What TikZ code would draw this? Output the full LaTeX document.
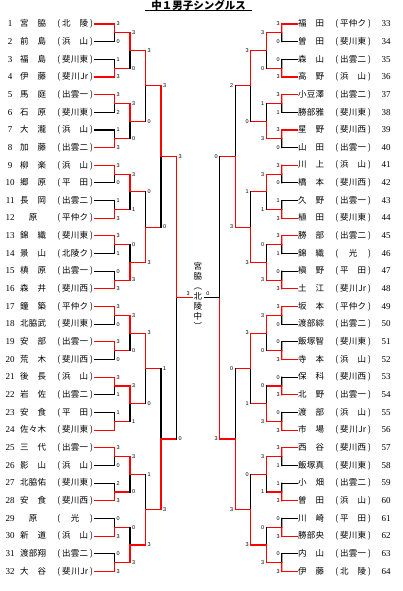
\documentclass[tikz,border=0pt]{standalone}
\usepackage{fontspec}
\setmainfont{Liberation Serif}
\newfontfamily\jpfont{Noto Sans CJK JP}
\newfontfamily\scfont{Liberation Sans}
\usetikzlibrary{positioning, calc}

% set scores, round by round, in the order of the lines (a 4 is a win with no figure printed)
\def\LscI{{3,0,1,3,3,2,1,3,3,0,1,3,3,1,0,3,3,0,3,0,3,1,1,4,3,0,2,3,0,3,0,3}}
\def\LscII{{3,0,3,0,3,1,0,3,3,0,3,1,3,0,0,3}}
\def\LscIII{{3,0,0,3,3,0,1,3}}
\def\LscIV{{3,0,1,3}}
\def\LscV{{3,0}}
\def\RscI{{3,0,0,3,3,1,3,0,3,0,1,3,3,1,0,3,3,0,0,3,0,3,0,3,3,1,1,3,0,3,0,3}}
\def\RscII{{3,0,1,3,3,1,0,3,3,0,0,3,3,1,0,3}}
\def\RscIII{{3,0,1,3,3,1,0,3}}
\def\RscIV{{2,3,0,3}}
\def\RscV{{0,3}}

\begin{document}
\begin{tikzpicture}[x=1pt, y=-1pt,
        entrant/.style={inner xsep=1pt, inner ysep=0pt, font=\jpfont\fontsize{8.5}{10}\selectfont},
        score/.style={inner sep=0pt, font=\scfont\fontsize{5.5}{6}\selectfont},
        bline/.style={line width=1.1pt, line cap=rect}%
    ]
    \useasboundingbox (0,0) rectangle (402,591);

    \node[anchor=base, inner sep=0pt, font=\jpfont\bfseries\fontsize{10.5}{12}\selectfont] (title) at (198.5,9.3) {\makebox[106pt]{中１男子シングルス}};
    \draw[line width=0.9pt] ([yshift=-1.4pt]title.base west) -- ([yshift=-1.4pt]title.base east);

    % left half
    \foreach \i/\nm/\aff in {1/宮\hfil 脇/北\hfil 陵, 2/前\hfil 島/浜\hfil 山, 3/福\hfil 島/斐\hfil 川\hfil 東, 4/伊\hfil 藤/斐\hfil 川\hfil Jr,
            5/馬\hfil 庭/出\hfil 雲\hfil 一, 6/石\hfil 原/斐\hfil 川\hfil 東, 7/大\hfil 瀧/浜\hfil 山, 8/加\hfil 藤/出\hfil 雲\hfil 二,
            9/柳\hfil 楽/浜\hfil 山, 10/郷\hfil 原/平\hfil 田, 11/長\hfil 岡/出\hfil 雲\hfil 二, 12/\hfil 原\hfil/平\hfil 仲\hfil ク,
            13/錦\hfil 織/斐\hfil 川\hfil 東, 14/景\hfil 山/北\hfil 陵\hfil ク, 15/槙\hfil 原/出\hfil 雲\hfil 一, 16/森\hfil 井/斐\hfil 川\hfil 西,
            17/鐘\hfil 築/平\hfil 仲\hfil ク, 18/北\hfil 脇\hfil 武/斐\hfil 川\hfil 東, 19/安\hfil 部/出\hfil 雲\hfil 一, 20/荒\hfil 木/斐\hfil 川\hfil 西,
            21/後\hfil 長/浜\hfil 山, 22/岩\hfil 佐/出\hfil 雲\hfil 二, 23/安\hfil 食/平\hfil 田, 24/佐\hfil 々\hfil 木/斐\hfil 川\hfil 東,
            25/三\hfil 代/出\hfil 雲\hfil 一, 26/影\hfil 山/浜\hfil 山, 27/北\hfil 脇\hfil 佑/斐\hfil 川\hfil 東, 28/安\hfil 食/斐\hfil 川\hfil 西,
            29/\hfil 原\hfil/\hfil 光\hfil, 30/新\hfil 道/浜\hfil 山, 31/渡\hfil 部\hfil 翔/出\hfil 雲\hfil 二, 32/大\hfil 谷/斐\hfil 川\hfil Jr} {
        \node[entrant, anchor=west] (p\i) at (0,{24+17.66*(\i-1)})
            {\makebox[18pt]{\rmfamily\fontsize{9}{10}\selectfont\i}\hspace{1pt}\makebox[26pt][s]{\nm}\makebox[16pt][r]{(\hspace{2pt}}\makebox[26pt][s]{\aff}\hspace{2pt})\hspace{3pt}};
        \coordinate (L0-\i) at (114.5,{24+17.66*(\i-1)});
        \pgfmathtruncatemacro\s{\LscI[\i-1]}
        \ifnum\s>2 \def\col{red}\else\def\col{black}\fi
        \draw[bline, draw=\col] (p\i.east) -- (L0-\i);
    }

    % right half
    \foreach \i/\nm/\aff in {33/福\hfil 田/平\hfil 仲\hfil ク, 34/曽\hfil 田/斐\hfil 川\hfil 東, 35/森\hfil 山/出\hfil 雲\hfil 二, 36/高\hfil 野/浜\hfil 山,
            37/小\hfil 豆\hfil 澤/出\hfil 雲\hfil 二, 38/勝\hfil 部\hfil 雅/斐\hfil 川\hfil 東, 39/星\hfil 野/斐\hfil 川\hfil 西, 40/山\hfil 田/出\hfil 雲\hfil 一,
            41/川\hfil 上/浜\hfil 山, 42/橋\hfil 本/斐\hfil 川\hfil 西, 43/久\hfil 野/出\hfil 雲\hfil 一, 44/植\hfil 田/斐\hfil 川\hfil 東,
            45/勝\hfil 部/出\hfil 雲\hfil 二, 46/錦\hfil 織/\hfil 光\hfil, 47/槇\hfil 野/平\hfil 田, 48/土\hfil 江/斐\hfil 川\hfil Jr,
            49/坂\hfil 本/平\hfil 仲\hfil ク, 50/渡\hfil 部\hfil 綜/出\hfil 雲\hfil 二, 51/飯\hfil 塚\hfil 智/斐\hfil 川\hfil 東, 52/寺\hfil 本/浜\hfil 山,
            53/保\hfil 科/斐\hfil 川\hfil 西, 54/北\hfil 野/出\hfil 雲\hfil 一, 55/渡\hfil 部/浜\hfil 山, 56/市\hfil 場/斐\hfil 川\hfil Jr,
            57/西\hfil 谷/斐\hfil 川\hfil 西, 58/飯\hfil 塚\hfil 真/斐\hfil 川\hfil 東, 59/小\hfil 畑/出\hfil 雲\hfil 二, 60/曽\hfil 田/浜\hfil 山,
            61/川\hfil 崎/平\hfil 田, 62/勝\hfil 部\hfil 央/斐\hfil 川\hfil 東, 63/内\hfil 山/出\hfil 雲\hfil 一, 64/伊\hfil 藤/北\hfil 陵} {
        \pgfmathtruncatemacro\j{\i-32}
        \node[entrant, anchor=west] (p\i) at (297,{24+17.66*(\j-1)})
            {\makebox[26pt][s]{\nm}\makebox[16pt][r]{(\hspace{2pt}}\makebox[26pt][s]{\aff}\hspace{2pt})\makebox[30pt]{\rmfamily\fontsize{9}{10}\selectfont\i}};
        \coordinate (R0-\j) at (281.7,{24+17.66*(\j-1)});
        \pgfmathtruncatemacro\s{\RscI[\j-1]}
        \ifnum\s>2 \def\col{red}\else\def\col{black}\fi
        \draw[bline, draw=\col] (R0-\j) -- (p\i.west);
    }

    % rounds
    \foreach \sd/\sg/\anc in {L/1/west, R/-1/east} {
        \foreach \r/\rr/\rn in {1/0/I, 2/1/II, 3/2/III, 4/3/IV, 5/4/V} {
            \expandafter\let\expandafter\scores\csname \sd sc\rn\endcsname
            \pgfmathtruncatemacro\nmatch{2^(5-\r)}
            \foreach \k in {1,...,\nmatch} {
                \pgfmathtruncatemacro\a{2*\k-1}
                \pgfmathtruncatemacro\b{2*\k}
                \pgfmathtruncatemacro\sa{\scores[\a-1]}
                \pgfmathtruncatemacro\sb{\scores[\b-1]}
                \coordinate (\sd m\r-\k) at ($(\sd\rr-\a)!.5!(\sd\rr-\b)$);
                \coordinate (\sd\r-\k) at ($(\sd m\r-\k)+(\sg*15.5,0)$);
                \ifnum\sa>\sb
                    \draw[bline] (\sd\rr-\b) -- (\sd m\r-\k);
                    \draw[bline, red] (\sd\rr-\a) -- (\sd m\r-\k);
                \else
                    \draw[bline] (\sd\rr-\a) -- (\sd m\r-\k);
                    \draw[bline, red] (\sd\rr-\b) -- (\sd m\r-\k);
                \fi
                \ifnum\r<5 \draw[bline, red] (\sd m\r-\k) -- (\sd\r-\k); \fi
                \node[score, anchor=\anc, xshift={\sg*1.8pt}] (\sd s\r-\a) at (\sd\rr-\a) {\ifnum\sa<4 \sa\fi};
                \node[score, anchor=\anc, xshift={\sg*1.8pt}] (\sd s\r-\b) at (\sd\rr-\b) {\ifnum\sb<4 \sb\fi};
            }
        }
    }

    % final
    \draw[bline, red] (Lm5-1) -- (L5-1);
    \draw[bline] (Rm5-1) -- (R5-1);
    \node[score, anchor=south east, xshift=-2pt, yshift=2pt] (fin-l) at (L5-1) {3};
    \node[score, anchor=south west, xshift=2pt, yshift=2pt] (fin-r) at (R5-1) {0};
    \node[font=\jpfont\fontsize{8.5}{10}\selectfont, align=center, inner sep=0pt] (champ) at (197.8,295.5) {宮\\脇\\︵\\北\\陵\\中\\︶};
\end{tikzpicture}
\end{document}
